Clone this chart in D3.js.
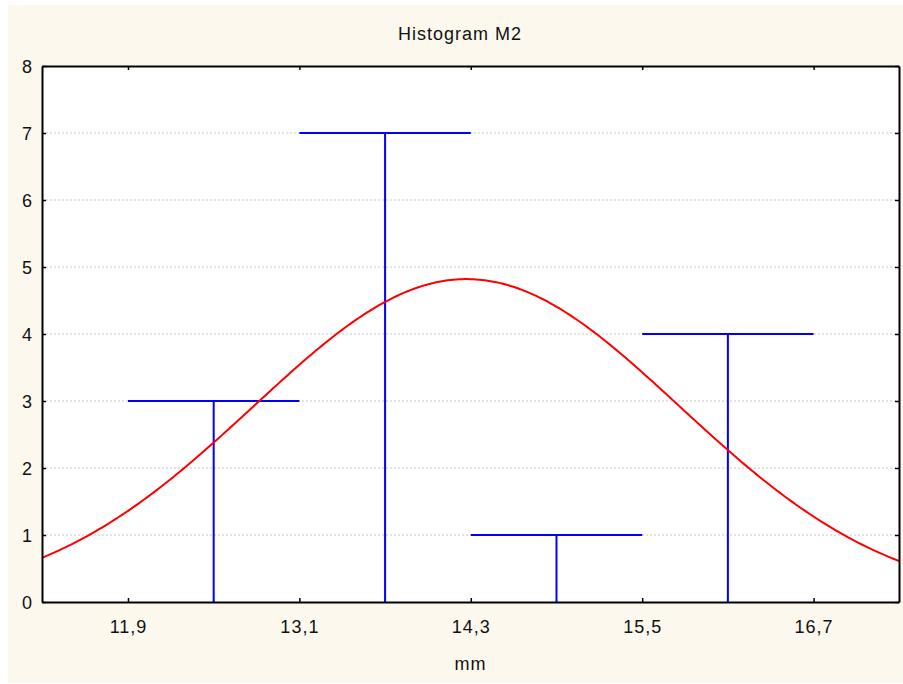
<!DOCTYPE html>
<html>
<head>
<meta charset="utf-8">
<script src="https://cdn.jsdelivr.net/npm/d3@7"></script>
<style>
  body { margin: 0; background: #ffffff; }
  svg text {
    font-family: "Liberation Sans", Arial, sans-serif;
    font-size: 18px;
    letter-spacing: 1px;
    fill: #111;
  }
  .grid line { stroke: #c8c8c8; stroke-width: 1; stroke-dasharray: 2,2; }
</style>
</head>
<body>
<svg id="chart" width="903" height="684"></svg>
<script>
// histogram bins (mm) and counts
const binEdges = [11.9, 13.1, 14.3, 15.5, 16.7];
const binCounts = [3, 7, 1, 4];
const xTicks = [11.9, 13.1, 14.3, 15.5, 16.7];
const yTicks = [0, 1, 2, 3, 4, 5, 6, 7, 8];
// fitted normal curve
const fitMean = 14.27;
const fitSd = 1.49;
const sampleSize = 15;
const binWidth = 1.2;

const margin = { left: 42, top: 66, right: 4, bottom: 82 };
const W = 903, H = 684;

const svg = d3.select("#chart");

svg.append("rect")
  .attr("x", 8).attr("y", 5)
  .attr("width", W - 8).attr("height", H - 6)
  .attr("fill", "#fcf8ee");

const x = d3.scaleLinear()
  .domain([11.298, 17.298])
  .range([margin.left, W - margin.right]);

const y = d3.scaleLinear()
  .domain([0, 8])
  .range([H - margin.bottom, margin.top]);

const fmt = (d) => d3.format(".1f")(d).replace(".", ",");

//=== plot area ===
svg.append("rect")
  .attr("x", x.range()[0]).attr("y", y.range()[1])
  .attr("width", x.range()[1] - x.range()[0])
  .attr("height", y.range()[0] - y.range()[1])
  .attr("fill", "#ffffff");

//=== grid ===
svg.append("g")
  .attr("class", "grid")
  .selectAll("line")
  .data(yTicks.filter((d) => d > 0 && d < 8))
  .join("line")
  .attr("x1", x.range()[0]).attr("x2", x.range()[1])
  .attr("y1", (d) => y(d)).attr("y2", (d) => y(d));

//=== histogram marks (T shapes) ===
const bins = binCounts.map((c, i) => ({ x0: binEdges[i], x1: binEdges[i + 1], count: c }));
const marks = svg.append("g").attr("stroke", "#0000ff").attr("stroke-width", 2);
marks.selectAll(".bar-top")
  .data(bins)
  .join("line")
  .attr("class", "bar-top")
  .attr("x1", (d) => x(d.x0)).attr("x2", (d) => x(d.x1))
  .attr("y1", (d) => y(d.count)).attr("y2", (d) => y(d.count));
marks.selectAll(".stem")
  .data(bins)
  .join("line")
  .attr("class", "stem")
  .attr("x1", (d) => x((d.x0 + d.x1) / 2)).attr("x2", (d) => x((d.x0 + d.x1) / 2))
  .attr("y1", (d) => y(d.count)).attr("y2", y(0));

//=== normal curve ===
const normal = (v) =>
  (sampleSize * binWidth) / (fitSd * Math.sqrt(2 * Math.PI)) *
  Math.exp(-((v - fitMean) ** 2) / (2 * fitSd * fitSd));
const curveX = d3.range(x.domain()[0], x.domain()[1] + 0.001, 0.02);
svg.append("path")
  .datum(curveX)
  .attr("fill", "none")
  .attr("stroke", "#ff0000")
  .attr("stroke-width", 2)
  .attr("d", d3.line().x((d) => x(d)).y((d) => y(normal(d))));

//=== axes (ticks inside, mirrored) ===
const tickLen = 4;
const axisBottomG = svg.append("g")
  .attr("transform", `translate(0,${y(0)})`)
  .call(d3.axisBottom(x).tickValues(xTicks).tickFormat(fmt).tickSize(-tickLen).tickSizeOuter(0).tickPadding(18));
const axisTopG = svg.append("g")
  .attr("transform", `translate(0,${y(8)})`)
  .call(d3.axisTop(x).tickValues(xTicks).tickFormat("").tickSize(-tickLen).tickSizeOuter(0));
const axisLeftG = svg.append("g")
  .attr("transform", `translate(${x.range()[0]},0)`)
  .call(d3.axisLeft(y).tickValues(yTicks).tickFormat(d3.format("d")).tickSize(-tickLen).tickSizeOuter(0).tickPadding(9));
const axisRightG = svg.append("g")
  .attr("transform", `translate(${x.range()[1]},0)`)
  .call(d3.axisRight(y).tickValues(yTicks).tickFormat("").tickSize(-tickLen).tickSizeOuter(0));

[axisBottomG, axisTopG, axisLeftG, axisRightG].forEach((g) => {
  g.select(".domain").attr("stroke", "#000").attr("stroke-width", 2);
  g.selectAll(".tick line").attr("stroke", "#000").attr("stroke-width", 1.5);
  g.selectAll("text").attr("font-family", null).attr("font-size", null).attr("fill", "#111");
});
axisLeftG.selectAll("text").attr("dy", "0.36em");

//=== titles ===
svg.append("text")
  .attr("x", 460)
  .attr("y", 40)
  .attr("text-anchor", "middle")
  .text("Histogram M2");

svg.append("text")
  .attr("x", (x.range()[0] + x.range()[1]) / 2)
  .attr("y", 670)
  .attr("text-anchor", "middle")
  .text("mm");
</script>
</body>
</html>
